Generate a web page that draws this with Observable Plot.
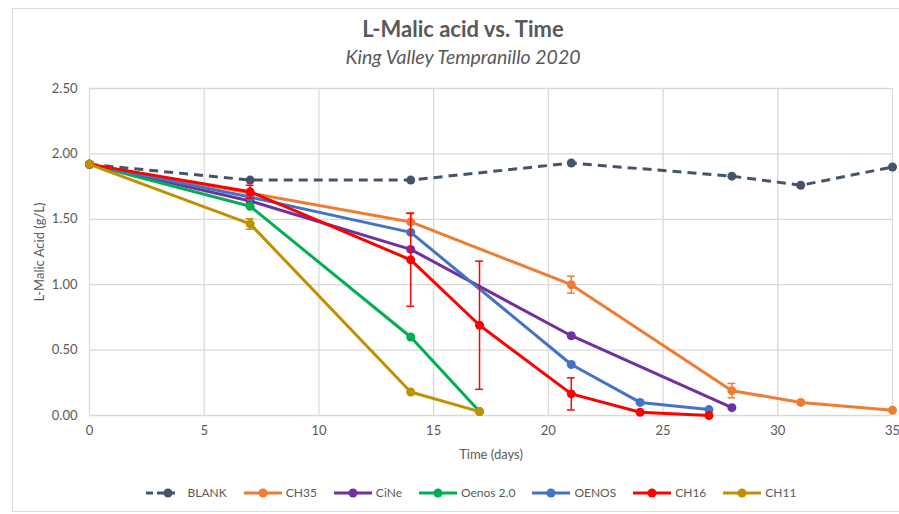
<!DOCTYPE html>
<html>
<head>
<meta charset="utf-8">
<script src="https://cdn.jsdelivr.net/npm/d3@7"></script>
<script src="https://cdn.jsdelivr.net/npm/@observablehq/plot@0.6"></script>
<style>
  body { margin: 0; background: #fff; }
  #wrap { position: relative; width: 899px; height: 514px; overflow: hidden; background: #fff; font-family: Lato, "Open Sans", sans-serif; }
  #frame { position: absolute; left: 12px; top: 8px; width: 900px; height: 502px; border: 1px solid #d9d9d9; }
  #title { position: absolute; left: 0; width: 926px; top: 15px; text-align: center; font-size: 22px; font-weight: bold; color: #595959; }
  #subtitle { position: absolute; left: 0; width: 926px; top: 45px; text-align: center; font-size: 19.5px; font-style: italic; color: #595959; }
  #chart { position: absolute; left: 0; top: 78px; }
  #legend { position: absolute; left: 0; width: 942px; top: 485px; display: flex; justify-content: center; gap: 17px; font-size: 12px; color: #595959; }
  .item { display: flex; align-items: center; gap: 2px; }
</style>
</head>
<body>
<div id="wrap">
  <div id="frame"></div>
  <div id="title">L-Malic acid vs. Time</div>
  <div id="subtitle">King Valley Tempranillo 2020</div>
  <div id="chart"></div>
  <div id="legend"></div>
</div>
<script>
// ---- data ----
const seriesNames = ["BLANK", "CH35", "CiNe", "Oenos 2.0", "OENOS", "CH16", "CH11"];
const seriesColors = ["#44546a", "#ed7d31", "#7030a0", "#00b050", "#4472c4", "#ff0000", "#bf9000"];

const blankDays = [0, 7, 14, 21, 28, 31, 35];
const blankVals = [1.92, 1.80, 1.80, 1.93, 1.83, 1.76, 1.90];
const blankErr  = [0, 0, 0, 0, 0, 0, 0];

const ch35Days = [0, 7, 14, 21, 28, 31, 35];
const ch35Vals = [1.92, 1.70, 1.48, 1.00, 0.19, 0.10, 0.04];
const ch35Err  = [0, 0, 0.07, 0.065, 0.055, 0, 0];

const cineDays = [0, 7, 14, 21, 28];
const cineVals = [1.92, 1.64, 1.27, 0.61, 0.06];
const cineErr  = [0, 0, 0, 0, 0];

const oenos2Days = [0, 7, 14, 17];
const oenos2Vals = [1.92, 1.60, 0.60, 0.03];
const oenos2Err  = [0, 0, 0, 0];

const oenosDays = [0, 7, 14, 21, 24, 27];
const oenosVals = [1.92, 1.67, 1.40, 0.39, 0.10, 0.045];
const oenosErr  = [0, 0, 0, 0, 0, 0];

const ch16Days = [0, 7, 14, 17, 21, 24, 27];
const ch16Vals = [1.92, 1.71, 1.19, 0.69, 0.165, 0.025, 0.00];
const ch16Err  = [0, 0.05, 0.355, 0.49, 0.123, 0, 0];

const ch11Days = [0, 7, 14, 17];
const ch11Vals = [1.92, 1.465, 0.18, 0.03];
const ch11Err  = [0, 0.04, 0, 0];

const xTicks = [0, 5, 10, 15, 20, 25, 30, 35];
const yTicks = [0, 0.5, 1, 1.5, 2, 2.5];

// ---- build table ----
const raw = [
  [blankDays, blankVals, blankErr],
  [ch35Days, ch35Vals, ch35Err],
  [cineDays, cineVals, cineErr],
  [oenos2Days, oenos2Vals, oenos2Err],
  [oenosDays, oenosVals, oenosErr],
  [ch16Days, ch16Vals, ch16Err],
  [ch11Days, ch11Vals, ch11Err]
];
const tables = raw.map(([days, vals, errs], k) =>
  days.map((d, i) => ({series: seriesNames[k], day: d, val: vals[i], err: errs[i]})));

const marks = [
  Plot.gridX(xTicks, {stroke: "#d9d9d9", strokeOpacity: 1, strokeWidth: 1.3}),
  Plot.gridY(yTicks, {stroke: "#d9d9d9", strokeOpacity: 1, strokeWidth: 1.3}),
  Plot.axisX(xTicks, {tickSize: 0, tickPadding: 10, label: "Time (days)", labelAnchor: "center", labelArrow: "none", labelOffset: 43, fontSize: 13}),
  Plot.axisY(yTicks, {tickSize: 0, tickPadding: 12, tickFormat: d3.format(".2f"), label: "L-Malic Acid (g/L)", labelAnchor: "center", labelArrow: "none", labelOffset: 55, fontSize: 13})
];
tables.forEach((t, k) => {
  const errs = t.filter(d => d.err > 0);
  marks.push(
    Plot.line(t, {x: "day", y: "val", stroke: "series", strokeWidth: 3,
      strokeDasharray: k === 0 ? "9,6" : null, strokeLinecap: "butt", strokeLinejoin: "round"}),
    Plot.ruleX(errs, {x: "day", y1: d => d.val - d.err, y2: d => d.val + d.err, stroke: "series", strokeWidth: 1.5}),
    Plot.ruleY(errs, {y: d => d.val + d.err, x1: d => d.day - 0.17, x2: d => d.day + 0.17, stroke: "series", strokeWidth: 1.5}),
    Plot.ruleY(errs, {y: d => d.val - d.err, x1: d => d.day - 0.17, x2: d => d.day + 0.17, stroke: "series", strokeWidth: 1.5}),
    Plot.dot(t, {x: "day", y: "val", fill: "series", r: 4.5})
  );
});

const chart = Plot.plot({
  width: 899,
  height: 392,
  marginLeft: 89,
  marginRight: 7,
  marginTop: 10,
  marginBottom: 55,
  style: {fontFamily: "Lato, 'Open Sans', sans-serif", fontSize: "13px", color: "#595959", background: "transparent"},
  x: {domain: [0, 35]},
  y: {domain: [0, 2.5]},
  color: {domain: seriesNames, range: seriesColors},
  marks
});
document.getElementById("chart").appendChild(chart);

// ---- legend ----
const legend = document.getElementById("legend");
seriesNames.forEach((name, k) => {
  const item = document.createElement("div");
  item.className = "item";
  const w = k === 0 ? 30 : 38;
  const dash = k === 0 ? 'stroke-dasharray="7,4"' : "";
  item.innerHTML = `<svg width="${w}" height="12"><line x1="0" y1="6" x2="${w}" y2="6" stroke="${seriesColors[k]}" stroke-width="3" ${dash}/><circle cx="${k === 0 ? 22 : w / 2}" cy="6" r="4.5" fill="${seriesColors[k]}"/></svg><span style="margin-left:${k === 0 ? 10 : 2}px">${name}</span>`;
  legend.appendChild(item);
});
</script>
</body>
</html>
